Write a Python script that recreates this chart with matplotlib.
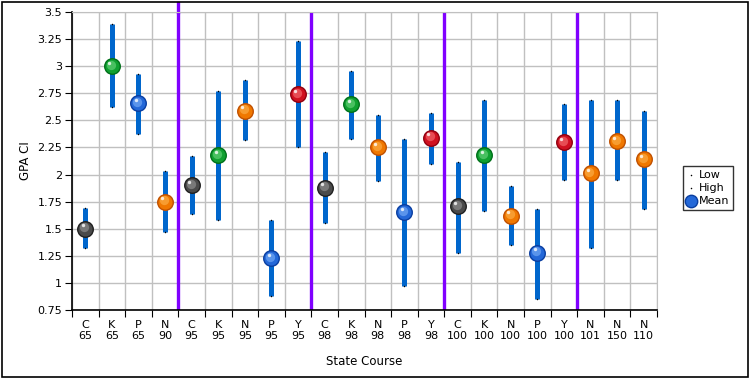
import matplotlib.pyplot as plt
from matplotlib.patches import Rectangle

courses = ["C\n65", "K\n65", "P\n65", "N\n90", "C\n95", "K\n95", "N\n95", "P\n95", "Y\n95",
           "C\n98", "K\n98", "N\n98", "P\n98", "Y\n98", "C\n100", "K\n100", "N\n100", "P\n100",
           "Y\n100", "N\n101", "N\n150", "N\n110"]
mean = [1.50, 3.00, 2.66, 1.75, 1.90, 2.18, 2.59, 1.23, 2.74, 1.88, 2.65, 2.25, 1.65, 2.34,
        1.71, 2.18, 1.62, 1.28, 2.30, 2.01, 2.31, 2.14]
low = [1.32, 2.62, 2.37, 1.47, 1.64, 1.58, 2.32, 0.88, 2.25, 1.55, 2.33, 1.94, 0.97, 2.10,
       1.28, 1.66, 1.35, 0.85, 1.95, 1.32, 1.95, 1.68]
high = [1.69, 3.39, 2.93, 2.03, 2.17, 2.77, 2.87, 1.58, 3.23, 2.21, 2.96, 2.55, 2.33, 2.57,
        2.12, 2.69, 1.89, 1.68, 2.65, 2.69, 2.69, 2.59]
dividers = [3.5, 8.5, 13.5, 18.5]
yticks = [0.75, 1, 1.25, 1.5, 1.75, 2, 2.25, 2.5, 2.75, 3, 3.25, 3.5]
ytick_labels = ["0.75", "1", "1.25", "1.5", "1.75", "2", "2.25", "2.5", "2.75", "3", "3.25", "3.5"]

# ball colours by state letter: (edge, body, highlight)
ball = {"C": ("#202020", "#4a4a4a", "#a8a8a8"), "K": ("#00701a", "#10a030", "#80e090"),
        "P": ("#0a3ea0", "#2468d8", "#90c0ff"), "N": ("#c05000", "#f07800", "#ffc060"),
        "Y": ("#900010", "#d01020", "#ff8888")}

plt.rcParams["font.family"] = ["DejaVu Sans"]
fig = plt.figure(figsize=(7.5, 3.78), dpi=100)
fig.patches.append(Rectangle((0.002, 0.003), 0.995, 0.993, transform=fig.transFigure,
                             fill=False, edgecolor="black", linewidth=1.2))
ax = fig.add_axes([72 / 750, 1 - 310 / 378, 585 / 750, 298 / 378])

x = list(range(len(courses)))
ax.vlines(x, low, high, color="#0066cc", linewidth=3.6, zorder=3)
ax.scatter(x, low, s=1.2, color="black", linewidths=0, zorder=4)
ax.scatter(x, high, s=1.2, color="black", linewidths=0, zorder=4)
for i, c in enumerate(courses):
    edge, body, hi = ball[c[0]]
    ax.scatter(i, mean[i], s=125, color=body, edgecolors=edge, linewidths=1, zorder=5)
    ax.scatter(i - 0.04, mean[i] + 0.012, s=45, color=hi, alpha=0.5, linewidths=0, zorder=6)
    ax.scatter(i - 0.1, mean[i] + 0.03, s=6, color="white", alpha=0.8, linewidths=0, zorder=7)

for d in dividers:
    ax.axvline(d, color="#8000ff", linewidth=2.4, zorder=2)
ax.plot([dividers[0], dividers[0]], [3.5, 3.58], color="#8000ff", linewidth=2.4, clip_on=False)

ax.set_xlim(-0.5, len(courses) - 0.5)
ax.set_ylim(0.75, 3.5)
ax.set_xticks([i - 0.5 for i in range(len(courses) + 1)])
ax.set_xticklabels([])
ax.set_xticks(x, minor=True)
ax.set_xticklabels(courses, minor=True, fontsize=8)
ax.tick_params(axis="x", which="minor", length=0, pad=7)
ax.tick_params(axis="x", which="major", length=5, color="black")
ax.set_yticks(yticks)
ax.set_yticklabels(ytick_labels, fontsize=8)
ax.tick_params(axis="y", length=5, pad=2)
ax.grid(True, which="major", color="#c0c0c0", linewidth=1)
ax.set_axisbelow(True)
for s in ["top", "right"]:
    ax.spines[s].set_color("#c0c0c0")
ax.spines["left"].set_linewidth(1.2)
ax.spines["bottom"].set_linewidth(1.2)

ax.set_ylabel("GPA CI", fontsize=8.5, labelpad=5)
ax.yaxis.set_label_coords(-40 / 585, 0.5)
ax.set_xlabel("State Course", fontsize=8.5, labelpad=10)

# legend
h1 = ax.scatter([], [], s=1.2, color="black", linewidths=0, label="Low")
h2 = ax.scatter([], [], s=1.2, color="black", linewidths=0, label="High")
h3 = ax.scatter([], [], s=80, color="#2468d8", edgecolors="#0a3ea0", label="Mean")
leg = fig.legend(handles=[h1, h2, h3], loc="center", bbox_to_anchor=(708 / 750, 1 - 188 / 378),
                 fontsize=8, frameon=True, fancybox=False, edgecolor="black", borderpad=0.35,
                 handlelength=0.8, handletextpad=0.3, labelspacing=0.3, borderaxespad=0)
leg.get_frame().set_linewidth(1)

fig.savefig("out.png", dpi=100)
